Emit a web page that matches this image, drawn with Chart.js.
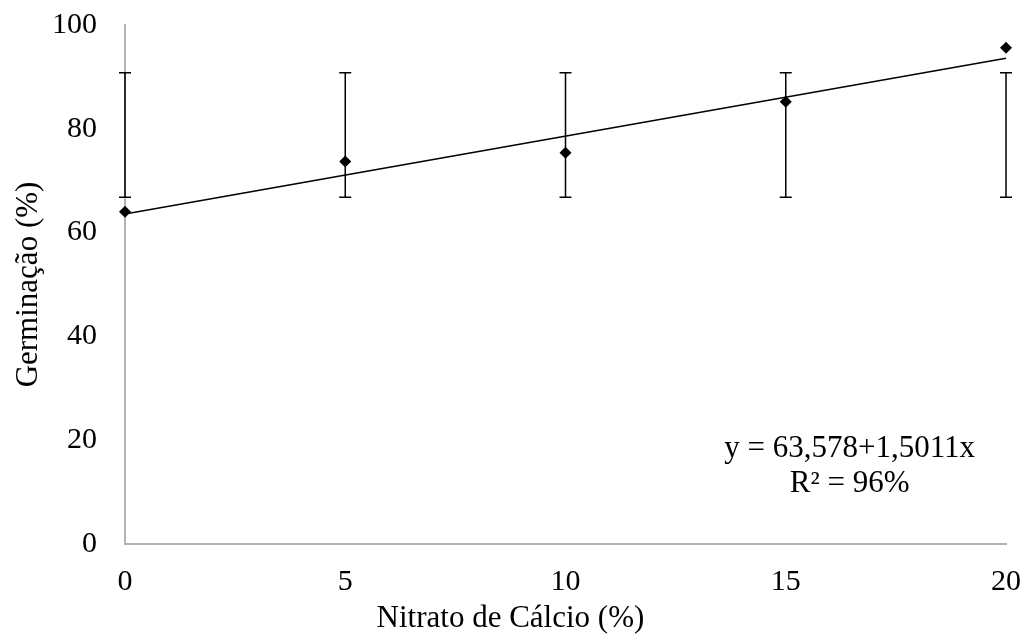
<!DOCTYPE html>
<html>
<head>
<meta charset="utf-8">
<script src="https://cdn.jsdelivr.net/npm/chart.js@4"></script>
<style>
  html, body { margin: 0; padding: 0; background: #fff; }
  #wrap { width: 1029px; height: 637px; }
</style>
</head>
<body>
<div id="wrap"><canvas id="chart" width="1029" height="637"></canvas></div>
<script>
// nitrato de calcio (%) and germination means
const doses = [0, 5, 10, 15, 20];
const germinacao = [64.0, 73.7, 75.4, 85.2, 95.6];
// error bar limits
const errLow = [66.8, 66.8, 66.8, 66.8, 66.8];
const errHigh = [90.8, 90.8, 90.8, 90.8, 90.8];
// fitted line end points
const trendX = [0, 20];
const trendY = [63.578, 93.6];
const eqLines = ['y = 63,578+1,5011x', 'R\u00b2 = 96%'];
const xTitle = 'Nitrato de Cálcio (%)';
const yTitle = 'Germinação (%)';

const FONT = '"Liberation Serif", "Times New Roman", serif';

const errorBars = {
  id: 'errorBars',
  afterDatasetsDraw(chart) {
    const { ctx } = chart;
    const x = chart.scales.x, y = chart.scales.y;
    ctx.save();
    ctx.strokeStyle = '#000';
    ctx.lineWidth = 1.5;
    doses.forEach((d, i) => {
      const px = x.getPixelForValue(d);
      const top = y.getPixelForValue(errHigh[i]);
      const bot = y.getPixelForValue(errLow[i]);
      ctx.beginPath();
      ctx.moveTo(px, top); ctx.lineTo(px, bot);
      ctx.moveTo(px - 6, top); ctx.lineTo(px + 6, top);
      ctx.moveTo(px - 6, bot); ctx.lineTo(px + 6, bot);
      ctx.stroke();
    });
    ctx.restore();
  }
};

// equation box and the x title (which sits left of centre in the original)
const extraText = {
  id: 'extraText',
  afterDraw(chart) {
    const { ctx } = chart;
    const x = chart.scales.x, y = chart.scales.y;
    ctx.save();
    ctx.fillStyle = '#000';
    ctx.font = '31px ' + FONT;
    ctx.textAlign = 'center';
    ctx.textBaseline = 'alphabetic';
    const cx = x.getPixelForValue(16.45);
    ctx.fillText(eqLines[0], cx, y.getPixelForValue(16.8));
    ctx.fillText(eqLines[1], cx, y.getPixelForValue(10.0));
    ctx.fillText(xTitle, x.getPixelForValue(8.75), 627);
    ctx.restore();
  }
};

new Chart(document.getElementById('chart'), {
  type: 'scatter',
  data: {
    datasets: [
      {
        data: doses.map((d, i) => ({ x: d, y: germinacao[i] })),
        pointStyle: 'rectRot',
        pointRadius: 6,
        backgroundColor: '#000',
        borderColor: '#000',
        borderWidth: 0,
        clip: false,
      },
      {
        type: 'line',
        data: trendX.map((d, i) => ({ x: d, y: trendY[i] })),
        borderColor: '#000',
        borderWidth: 1.5,
        pointRadius: 0,
        fill: false,
        clip: false,
      },
    ],
  },
  options: {
    responsive: false,
    animation: false,
    layout: { padding: { top: 25, right: 23, left: 0, bottom: 0 } },
    plugins: {
      legend: { display: false },
      tooltip: { enabled: false },
    },
    scales: {
      x: {
        type: 'linear',
        min: 0,
        max: 20,
        grid: { display: false, drawTicks: false },
        border: { color: '#b3b3b3', width: 2 },
        ticks: { stepSize: 5, color: '#000', font: { family: FONT, size: 30 }, padding: 20 },
        afterFit(scale) {
          scale.height = 93;
          scale.paddingLeft = 0;
          scale.paddingRight = 0;
        },
      },
      y: {
        min: 0,
        max: 100,
        grid: { display: false, drawTicks: false },
        border: { color: '#b3b3b3', width: 2 },
        ticks: { stepSize: 20, color: '#000', font: { family: FONT, size: 30 }, padding: 28 },
        title: {
          display: true,
          text: yTitle,
          color: '#000',
          font: { family: FONT, size: 31 },
          padding: { top: 10, bottom: 0 },
        },
        afterFit(scale) {
          scale.width = 125;
          scale.paddingTop = 0;
          scale.paddingBottom = 0;
        },
      },
    },
  },
  plugins: [errorBars, extraText],
});
</script>
</body>
</html>
